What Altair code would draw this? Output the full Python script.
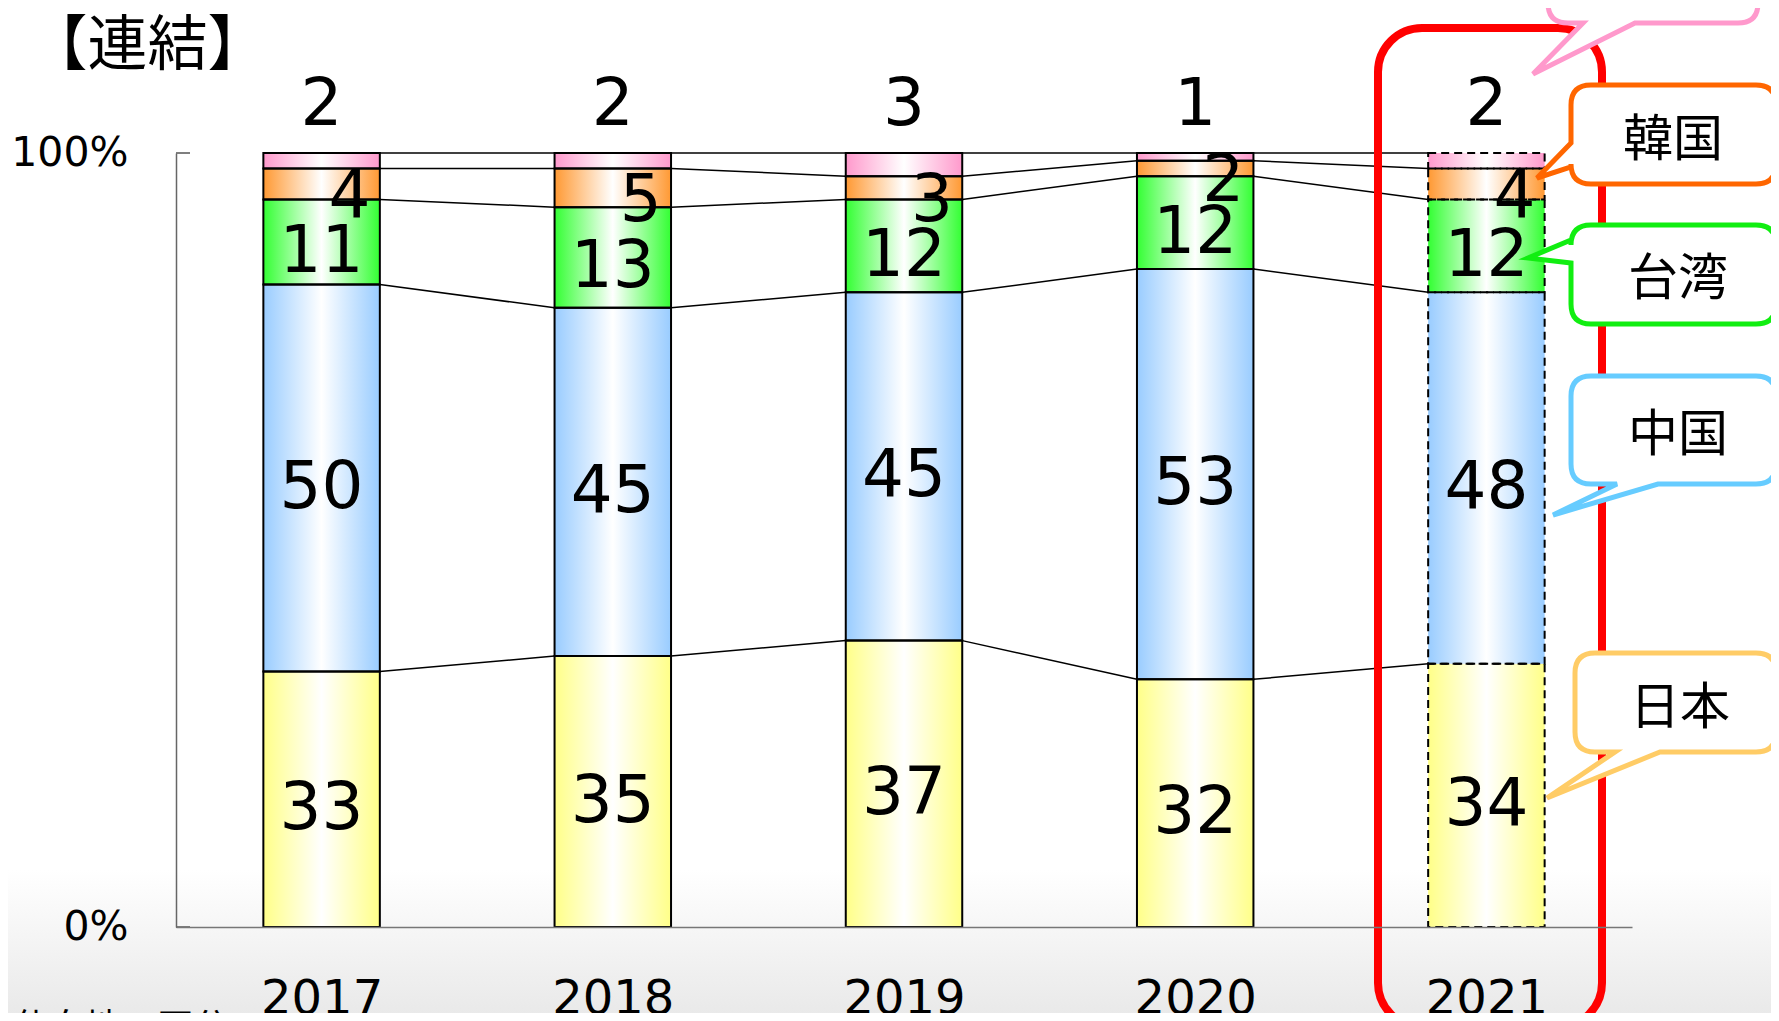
import altair as alt
import pandas as pd

# ---------------- data ----------------
years = [2017, 2018, 2019, 2020, 2021]
series_names = ["日本", "中国", "台湾", "韓国", "その他"]
japan = [33, 35, 37, 32, 34]
china = [50, 45, 45, 53, 48]
taiwan = [11, 13, 12, 12, 12]
korea = [4, 5, 3, 2, 4]
other = [2, 2, 3, 1, 2]
series_values = [japan, china, taiwan, korea, other]
series_colors = ["#FFFF88", "#99CCFF", "#33FF33", "#FF9933", "#FF99CC"]
y_tick_values = [0, 100]
title_text = "【連結】"
note_text = "仕向地で区分"
callout_labels = ["", "韓国", "台湾", "中国", "日本"]
callout_colors = ["#FF99CC", "#FF6600", "#11EE11", "#66CCFF", "#FFCC66"]

# ---------------- layout ----------------
W, H = 1456, 774
PAD = {"left": 168, "top": 145, "right": 139, "bottom": 86}
PL, PT = 8 + PAD["left"], 8 + PAD["top"]      # plot origin on page
X0, X1 = 2016.5, 2021.5
HALF = 0.2


def px2x(px):
    return X0 + (px - PL) / W * (X1 - X0)


def px2y(py):
    return (PT + H - py) / H * 100


rows = []
for i, yr in enumerate(years):
    cum = 0
    for s, vals in zip(series_names, series_values):
        v = vals[i]
        rows.append(dict(year=yr, series=s, value=v, lo=cum, hi=cum + v,
                         mid=cum + v / 2, xlo=yr - HALF, xhi=yr + HALF,
                         dashed=(yr == years[-1])))
        cum += v
seg = pd.DataFrame(rows)

conn = []
for i in range(len(years) - 1):
    for s in series_names:
        a = seg[(seg.year == years[i]) & (seg.series == s)].hi.iloc[0]
        b = seg[(seg.year == years[i + 1]) & (seg.series == s)].hi.iloc[0]
        conn.append(dict(x=years[i] + HALF, x2=years[i + 1] - HALF, y=a, y2=b))
conn = pd.DataFrame(conn)

xscale = alt.Scale(domain=[X0, X1], nice=False, zero=False)
yscale = alt.Scale(domain=[0, 100], nice=False, zero=False)
xaxis = alt.Axis(values=years, format="d", title=None, grid=False, ticks=False,
                 tickSize=0, labelPadding=86, labelFontSize=48,
                 labelFont="DejaVu Sans", labelColor="black",
                 labelBaseline="alphabetic", labelFlush=False,
                 domainColor="#777777", domainWidth=1.5, zindex=1)
yaxis = alt.Axis(values=y_tick_values, labelExpr="datum.value + '%'", title=None,
                 grid=False, ticks=False, tickSize=0, labelPadding=48,
                 labelFontSize=41, labelFont="DejaVu Sans", labelColor="black",
                 labelBaseline="middle", labelFlush=False,
                 domainColor="#666666", domainWidth=1.5, zindex=1)


def X(f):
    return alt.X(f, type="quantitative", scale=xscale, axis=xaxis)


def Y(f):
    return alt.Y(f, type="quantitative", scale=yscale, axis=yaxis)


def hgrad(c):
    return {"gradient": "linear", "x1": 0, "x2": 1, "y1": 0, "y2": 0,
            "stops": [{"offset": 0, "color": c},
                      {"offset": 0.5, "color": "#FFFFFF"},
                      {"offset": 1, "color": c}]}


layers = []

# background gradient at bottom
bg_grad = {"gradient": "linear", "x1": 0, "x2": 0, "y1": 0, "y2": 1,
           "stops": [{"offset": 0, "color": "#FFFFFF"},
                     {"offset": 1, "color": "#E8E8E8"}]}
layers.append(alt.Chart(alt.Data(values=[{}])).mark_rect(fill=bg_grad).encode(
    x=alt.value(-PAD["left"]), x2=alt.value(W + PAD["right"]),
    y=alt.value(870 - PT), y2=alt.value(1021 - PT)))

# bar fills
for s, c in zip(series_names, series_colors):
    layers.append(alt.Chart(seg).transform_filter(alt.datum.series == s)
                  .mark_rect(fill=hgrad(c))
                  .encode(x=X("xlo"), x2=alt.X2("xhi"), y=Y("lo"), y2=alt.Y2("hi")))

# connector lines
layers.append(alt.Chart(conn).mark_rule(color="black", strokeWidth=1.5).encode(
    x=X("x"), x2=alt.X2("x2"), y=Y("y"), y2=alt.Y2("y2")))

# bar outlines: solid for past years, dashed for the forecast year
layers.append(alt.Chart(seg).transform_filter("!datum.dashed")
              .mark_rect(fill="white", fillOpacity=0, stroke="black", strokeWidth=2)
              .encode(x=X("xlo"), x2=alt.X2("xhi"), y=Y("lo"), y2=alt.Y2("hi")))
layers.append(alt.Chart(seg).transform_filter("datum.dashed")
              .mark_rect(fill="white", fillOpacity=0, stroke="black", strokeWidth=2,
                         strokeDash=[8, 5])
              .encode(x=X("xlo"), x2=alt.X2("xhi"), y=Y("lo"), y2=alt.Y2("hi")))

# segment labels
lab_common = dict(font="DejaVu Sans", fontSize=66, color="black", align="center")
layers.append(alt.Chart(seg).transform_filter(
    "datum.series != 'その他' && datum.series != '韓国'")
    .mark_text(baseline="middle", dy=10, **lab_common)
    .encode(x=X("year"), y=Y("mid"), text="value:Q"))
layers.append(alt.Chart(seg).transform_filter("datum.series == '韓国'")
              .mark_text(baseline="middle", dx=28, dy=13, **lab_common)
              .encode(x=X("year"), y=Y("mid"), text="value:Q"))
layers.append(alt.Chart(seg).transform_filter("datum.series == 'その他'")
              .mark_text(baseline="alphabetic", dy=-28, **lab_common)
              .encode(x=X("year"), y=Y("hi"), text="value:Q"))

# red highlight frame around 2021
frame = pd.DataFrame([dict(x=px2x(1378), x2=px2x(1602), y=px2y(28), y2=px2y(1027))])
layers.append(alt.Chart(frame).mark_rect(fill="white", fillOpacity=0, stroke="#FF0000",
                                         strokeWidth=8, cornerRadius=44).encode(
    x=X("x"), x2=alt.X2("x2"), y=Y("y"), y2=alt.Y2("y2")))


# callouts
def callout_path(box, tail, tip):
    x0, y0, x1, y1, r = box
    edge, a, b = tail
    tx, ty = tip

    def P(x, y):
        return f"{x - tx:.1f},{y - ty:.1f}"

    d = (f"M{P(x0 + r, y0)} L{P(x1 - r, y0)} Q{P(x1, y0)} {P(x1, y0 + r)} "
         f"L{P(x1, y1 - r)} Q{P(x1, y1)} {P(x1 - r, y1)} ")
    if edge == "bottom":
        d += f"L{P(b, y1)} L{P(tx, ty)} L{P(a, y1)} "
    d += f"L{P(x0 + r, y1)} Q{P(x0, y1)} {P(x0, y1 - r)} "
    if edge == "left":
        d += f"L{P(x0, b)} L{P(tx, ty)} L{P(x0, a)} "
    d += f"L{P(x0, y0 + r)} Q{P(x0, y0)} {P(x0 + r, y0)} Z"
    return d


callout_geom = [
    ((1548, -80, 1758, 23, 20), ("bottom", 1583, 1635), (1533, 74), None),
    ((1571, 85, 1776, 184, 20), ("left", 143, 167), (1537, 178), (1673, 141)),
    ((1571, 225, 1776, 324, 20), ("left", 240, 263), (1528, 258), (1678, 280)),
    ((1571, 376, 1776, 484, 20), ("bottom", 1617, 1658), (1553, 515), (1678, 436)),
    ((1575, 653, 1776, 752, 20), ("bottom", 1615, 1660), (1547, 798), (1680, 709)),
]
co_rows, ct_rows = [], []
for (box, tail, tip, tpos), lab, col in zip(callout_geom, callout_labels, callout_colors):
    co_rows.append(dict(ax=px2x(tip[0]), ay=px2y(tip[1]),
                        path=callout_path(box, tail, tip), color=col))
    if tpos is not None and lab:
        ct_rows.append(dict(tx=px2x(tpos[0]), ty=px2y(tpos[1]), label=lab))
co = pd.DataFrame(co_rows)
ct = pd.DataFrame(ct_rows)

layers.append(alt.Chart(co).mark_point(filled=True, fill="white", size=4, strokeWidth=5,
                                       opacity=1, fillOpacity=1, strokeOpacity=1).encode(
    x=X("ax"), y=Y("ay"),
    shape=alt.Shape("path:N", scale=None),
    stroke=alt.Stroke("color:N", scale=None)))
layers.append(alt.Chart(ct).mark_text(font="Noto Sans CJK JP", fontSize=50,
                                      baseline="middle", align="center",
                                      color="black").encode(
    x=X("tx"), y=Y("ty"), text="label:N"))

# inward axis ticks at 0% and 100%
layers.append(alt.Chart(pd.DataFrame({"v": y_tick_values})).mark_rule(
    color="#555555", strokeWidth=1.5).encode(
    x=alt.value(0), x2=alt.value(14), y=Y("v")))

# title and cut-off note
layers.append(alt.Chart(alt.Data(values=[{"t": title_text}])).mark_text(
    font="Noto Sans CJK JP", fontSize=60, align="center", baseline="alphabetic",
    color="black").encode(x=alt.value(147.5 - PL), y=alt.value(65 - PT), text="t:N"))
layers.append(alt.Chart(alt.Data(values=[{"t": note_text}])).mark_text(
    font="Noto Sans CJK JP", fontSize=36, align="left", baseline="alphabetic",
    color="black").encode(x=alt.value(13 - PL), y=alt.value(1040 - PT), text="t:N"))

chart = alt.layer(*layers).properties(
    width=W, height=H,
    autosize=alt.AutoSizeParams(type="none"),
    padding=PAD,
    background="white",
).configure_view(stroke=None)

chart.save("out.html", embed_options={"renderer": "svg", "actions": False})
